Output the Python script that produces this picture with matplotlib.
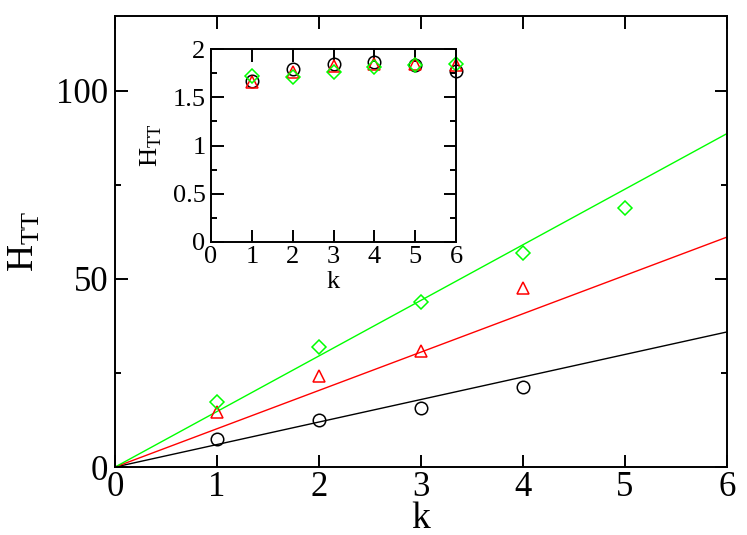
import numpy as np
import matplotlib
matplotlib.use("Agg")
import matplotlib.pyplot as plt
from matplotlib.ticker import MultipleLocator

plt.rcParams['font.family'] = ['Liberation Serif', 'DejaVu Serif']
plt.rcParams['mathtext.fontset'] = 'custom'
plt.rcParams['mathtext.rm'] = 'Liberation Serif'

# main panel data
k_black = [1, 2, 3, 4]
h_black = [7.45, 12.5, 15.6, 21.2]
k_red = [1, 2, 3, 4]
h_red = [14.6, 24.1, 30.9, 47.6]
k_green = [1, 2, 3, 4, 5]
h_green = [17.4, 32.0, 43.9, 56.9, 68.8]

# straight fit lines through origin (values at k=0 and k=6)
k_fit = [0, 6]
fit_black = [0, 35.9]
fit_red = [0, 61.1]
fit_green = [0, 88.6]

# inset data
k_in = [1, 2, 3, 4, 5, 6]
in_black = [1.668, 1.799, 1.848, 1.869, 1.841, 1.775]
in_red = [1.659, 1.765, 1.827, 1.844, 1.844, 1.837]
in_green = [1.723, 1.713, 1.765, 1.817, 1.841, 1.851]


def style_axes(ax, minor_y, size, lw):
    for sp in ax.spines.values():
        sp.set_linewidth(lw)
    ax.tick_params(which='both', direction='in', top=True, right=True, width=lw)
    ax.tick_params(which='major', length=9, labelsize=size)
    ax.tick_params(which='minor', length=4.5)
    ax.yaxis.set_minor_locator(MultipleLocator(minor_y))


fig = plt.figure(figsize=(7.47, 5.35), dpi=100)
ax = fig.add_axes([0.154, 0.127, 0.819, 0.844])

ax.plot(k_fit, fit_black, color='black', lw=1.0)
ax.plot(k_fit, fit_red, color='red', lw=1.0)
ax.plot(k_fit, fit_green, color='lime', lw=1.0)
ax.plot(k_black, h_black, 'o', mfc='none', mec='black', ms=9, mew=1.1)
ax.plot(k_red, h_red, '^', mfc='none', mec='red', ms=9, mew=1.1)
ax.plot(k_green, h_green, 'D', mfc='none', mec='lime', ms=6.8, mew=1.1)

ax.set_xlim(0, 6)
ax.set_ylim(0, 120)
ax.set_xticks(range(0, 7))
ax.set_yticks([0, 50, 100])
style_axes(ax, 25, 25, 1.4)
ax.tick_params(axis='x', pad=3)
ax.tick_params(axis='y', pad=5)
ax.set_xlabel('k', fontsize=27, labelpad=-2)
ax.set_ylabel(r'H$_\mathregular{TT}$', fontsize=27, labelpad=10)

# inset
axi = fig.add_axes([0.2825, 0.548, 0.328, 0.360])
axi.plot(k_in, in_black, 'o', mfc='none', mec='black', ms=9, mew=1.1, clip_on=False)
axi.plot(k_in, in_red, '^', mfc='none', mec='red', ms=9, mew=1.1, clip_on=False)
axi.plot(k_in, in_green, 'D', mfc='none', mec='lime', ms=6.8, mew=1.1, clip_on=False)
axi.set_xlim(0, 6)
axi.set_ylim(0, 2)
axi.set_xticks(range(0, 7))
axi.set_yticks([0, 0.5, 1, 1.5, 2])
axi.set_yticklabels(['0', '0.5', '1', '1.5', '2'])
style_axes(axi, 0.25, 19, 1.4)
axi.tick_params(axis='x', pad=3)
axi.tick_params(axis='y', pad=4)
axi.set_xlabel('k', fontsize=19, labelpad=2)
axi.set_ylabel(r'H$_\mathregular{TT}$', fontsize=19, labelpad=6)

fig.savefig('out.png', dpi=100)
